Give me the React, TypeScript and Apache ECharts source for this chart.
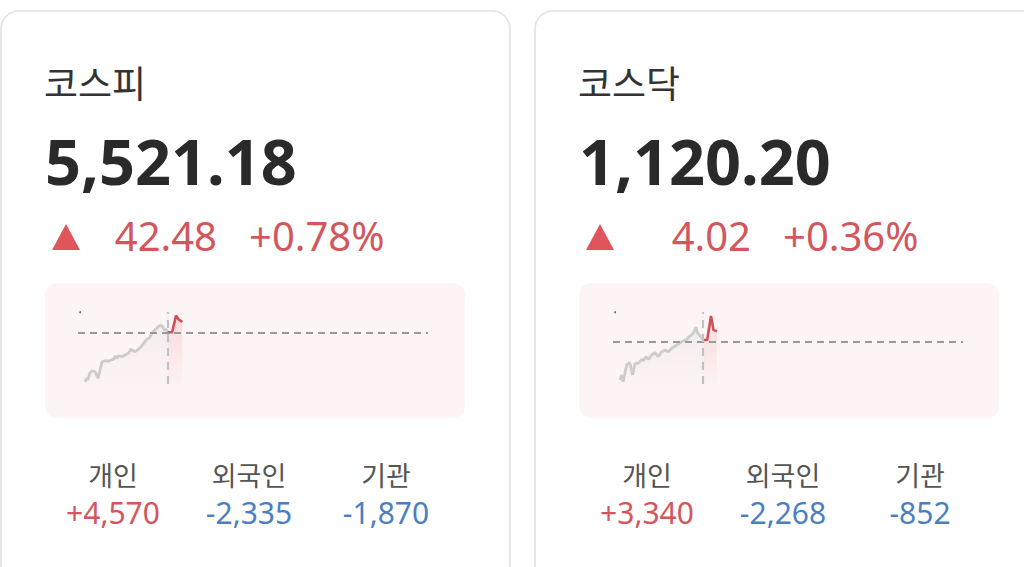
import React, { useEffect, useRef } from "react";
import * as echarts from "echarts";

const indexNames = ["코스피", "코스닥"];
const indexValues = ["5,521.18", "1,120.20"];
const changeValues = ["42.48", "4.02"];
const changePcts = ["+0.78%", "+0.36%"];
const investorLabels = ["개인", "외국인", "기관"];
const kospiInvestors = ["+4,570", "-2,335", "-1,870"];
const kosdaqInvestors = ["+3,340", "-2,268", "-852"];
const prevClose = [5478.7, 1116.18];
const yMins = [5280, 1099];
const yMaxs = [5560, 1128];
const openX = [25.6, 25.6];

const kospiPrev: number[][] = [
  [2.0, 5287.8], [2.5, 5303.3], [2.8, 5295.6], [3.4, 5322.8], [4.1, 5331.7],
  [4.9, 5327.8], [5.3, 5315], [5.8, 5302.2], [6.3, 5334.4], [6.9, 5366.7],
  [7.7, 5370.6], [8.7, 5369.4], [9.4, 5373.3], [10.1, 5376.1], [10.6, 5388.9],
  [11.1, 5380], [11.5, 5388.9], [12.5, 5386.2], [13.4, 5392.8], [14.4, 5399.4],
  [15.1, 5415], [15.8, 5409.5], [16.3, 5405.6], [17.2, 5415], [18.2, 5427.8],
  [19.1, 5444.5], [19.6, 5453.8], [20.3, 5457.7], [21.1, 5477.2], [22.0, 5490],
  [22.9, 5502.8], [23.7, 5509.5], [24.2, 5502.8], [24.7, 5490], [25.1, 5492.7],
  [25.6, 5483.4],
];
const kospiToday: number[][] = [
  [25.6, 5481], [26.9, 5481], [28.0, 5546], [28.7, 5532], [29.8, 5521.18],
];
const kosdaqPrev: number[][] = [
  [2.0, 1100.6], [2.5, 1102.6], [2.9, 1099.9], [3.9, 1106.7], [4.7, 1107.6],
  [5.1, 1106.0], [5.6, 1102.6], [6.3, 1107.3], [7.2, 1107.3], [8.2, 1108.9],
  [8.7, 1108.4], [9.4, 1110.0], [10.1, 1108.9], [11.1, 1110.7], [12.0, 1111.6],
  [12.9, 1110.0], [13.9, 1112.0], [14.9, 1112.7], [15.8, 1112.0], [16.8, 1113.4],
  [18.2, 1114.7], [19.6, 1116.0], [21.1, 1117.0], [22.0, 1118.3], [22.9, 1119.4],
  [23.7, 1121.8], [24.2, 1119.4], [24.7, 1118.7], [25.1, 1118.1], [25.6, 1117.0],
];
const kosdaqToday: number[][] = [
  [25.6, 1116.7], [26.9, 1116.7], [28.0, 1126.4], [28.7, 1120.8], [29.7, 1120.2],
];
const cornerDots: number[][] = [
  [0.6, 5559],
  [0.6, 1127.9],
];

const prevSeries = [kospiPrev, kosdaqPrev];
const todaySeries = [kospiToday, kosdaqToday];
const investorValues = [kospiInvestors, kosdaqInvestors];

const RED = "#d4565d";
const TRI = "#e0555c";
const BLUE = "#4c7fc1";
const NUMFONT = '"Noto Sans", "Noto Sans CJK KR", sans-serif';
const KRFONT = '"Noto Sans CJK KR", "Noto Sans", sans-serif';

export default function App() {
  const ref = useRef<HTMLDivElement>(null);
  useEffect(() => {
    if (!ref.current) return;
    const chart = echarts.init(ref.current, undefined, { renderer: "svg" });
    const cardX = [1, 535];
    const graphic: any[] = [];
    cardX.forEach((cx, i) => {
      graphic.push({
        type: "rect",
        shape: { x: cx, y: 11, width: i === 0 ? 509 : 560, height: 580, r: 18 },
        style: { fill: "#ffffff", stroke: "#e1e1e1", lineWidth: 1.6 },
        z: -10,
      });
      graphic.push({
        type: "rect",
        shape: { x: cx + 44, y: 283, width: 420, height: 135, r: 12 },
        style: { fill: "#fdf5f5" },
        z: -9,
      });
      graphic.push({
        type: "text",
        x: cx + 43,
        y: 81.5,
        style: {
          text: indexNames[i], fill: "#333333", font: `400 37px ${KRFONT}`,
          textAlign: "left", textVerticalAlign: "middle",
        },
      });
      graphic.push({
        type: "text",
        x: cx + 44,
        y: 160,
        style: {
          text: indexValues[i], fill: "#2a2a2a", font: `700 63px ${NUMFONT}`,
          textAlign: "left", textVerticalAlign: "middle",
        },
      });
      graphic.push({
        type: "polygon",
        shape: { points: [[cx + 51, 250], [cx + 79, 250], [cx + 65, 224]] },
        style: { fill: TRI },
      });
      graphic.push({
        type: "text",
        x: cx + 216,
        y: 235,
        style: {
          text: changeValues[i], fill: RED, font: `400 40px ${NUMFONT}`,
          textAlign: "right", textVerticalAlign: "middle",
        },
      });
      graphic.push({
        type: "text",
        x: cx + 248,
        y: 235,
        style: {
          text: changePcts[i], fill: RED, font: `400 40px ${NUMFONT}`,
          textAlign: "left", textVerticalAlign: "middle",
        },
      });
      const colX = [112, 248, 385];
      investorLabels.forEach((lab, j) => {
        graphic.push({
          type: "text",
          x: cx + colX[j],
          y: 474,
          style: {
            text: lab, fill: "#555555", font: `400 27px ${KRFONT}`,
            textAlign: "center", textVerticalAlign: "middle",
          },
        });
        const v = investorValues[i][j];
        graphic.push({
          type: "text",
          x: cx + colX[j],
          y: 512,
          style: {
            text: v, fill: v.startsWith("+") ? RED : BLUE, font: `400 30px ${NUMFONT}`,
            textAlign: "center", textVerticalAlign: "middle",
          },
        });
      });
    });

    const grids = [0, 1].map((i) => ({
      left: 78 + i * 535, top: 312, width: 350, height: 72,
    }));
    const xAxes = [0, 1].map((i) => ({
      type: "value", gridIndex: i, min: 0, max: 100, show: false,
    }));
    const yAxes = [0, 1].map((i) => ({
      type: "value", gridIndex: i, min: yMins[i], max: yMaxs[i], show: false,
    }));
    const series: any[] = [];
    [0, 1].forEach((i) => {
      series.push({
        type: "line",
        xAxisIndex: i, yAxisIndex: i,
        data: prevSeries[i],
        symbol: "none",
        lineStyle: { color: "#cccccc", width: 2.8 },
        areaStyle: {
          origin: "start",
          color: new echarts.graphic.LinearGradient(0, 0, 0, 1, [
            { offset: 0, color: "rgba(170,170,170,0.16)" },
            { offset: 1, color: "rgba(170,170,170,0.02)" },
          ]),
        },
        z: 3,
      });
      series.push({
        type: "line",
        xAxisIndex: i, yAxisIndex: i,
        data: todaySeries[i],
        symbol: "none",
        lineStyle: { color: "#d2505a", width: 2.6 },
        areaStyle: {
          origin: "start",
          color: new echarts.graphic.LinearGradient(0, 0, 0, 1, [
            { offset: 0, color: "rgba(238,120,128,0.30)" },
            { offset: 1, color: "rgba(238,120,128,0.04)" },
          ]),
        },
        z: 4,
        markLine: {
          silent: true,
          symbol: "none",
          label: { show: false },
          data: [
            { yAxis: prevClose[i], lineStyle: { color: "#999999", width: 2.2, type: [7, 5] } },
            { xAxis: openX[i], lineStyle: { color: "#bfc2c6", width: 2.2, type: [8, 6] } },
          ],
        },
      });
      series.push({
        type: "scatter",
        xAxisIndex: i, yAxisIndex: i,
        data: [cornerDots[i]],
        symbolSize: 2,
        itemStyle: { color: "#444" },
        silent: true,
      });
    });

    chart.setOption({
      animation: false,
      backgroundColor: "#ffffff",
      graphic,
      grid: grids,
      xAxis: xAxes,
      yAxis: yAxes,
      series,
    });
    return () => chart.dispose();
  }, []);
  return (
    <div
      ref={ref}
      style={{ position: "fixed", left: 0, top: 0, width: "1024px", height: "567px" }}
    />
  );
}
